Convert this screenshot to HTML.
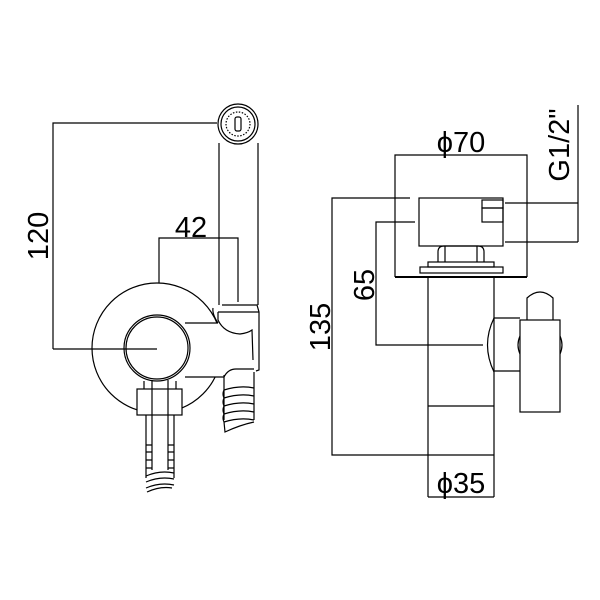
<!DOCTYPE html>
<html><head><meta charset="utf-8"><style>
html,body{margin:0;padding:0;background:#fff}
svg{display:block}
text{font-family:"Liberation Sans","DejaVu Sans",sans-serif;fill:#000}
</style></head><body>
<svg width="600" height="600" viewBox="0 0 600 600" xmlns="http://www.w3.org/2000/svg">
<g fill="none" stroke="#000" stroke-width="1.2">
<polyline points="217,123 53,123 53,349"/>
<polyline points="159,283 159,238 238,238 238,302"/>
<circle cx="157" cy="348" r="65" fill="#fff"/>
<rect x="186" y="323.5" width="40" height="53" fill="#fff" stroke="none"/>
<line x1="185" y1="323" x2="218" y2="323"/>
<line x1="185" y1="377" x2="224" y2="377"/>
<circle cx="157" cy="348" r="33" fill="#fff"/>
<circle cx="157" cy="348" r="31"/>
<line x1="53" y1="349" x2="157" y2="349"/>
<circle cx="238" cy="124" r="20" fill="#fff"/>
<circle cx="238" cy="124" r="17"/>
<circle cx="238" cy="124" r="12" stroke-dasharray="1.5 1.5"/>
<rect x="235" y="117" width="6" height="14" rx="2"/>
<line x1="219" y1="143" x2="219" y2="305"/>
<line x1="258" y1="143" x2="258" y2="305"/>
<path d="M222,305 L257,305 L259,312 L259,370 L256,371"/>
<line x1="218" y1="312" x2="259" y2="312"/>
<path d="M218,312 L218,320 Q224,333 240,334 Q248,333 252,330 L253,360"/>
<path d="M218,323 Q212,314 213,308"/>
<path d="M224,377 Q228,369 236,369 L254,369"/>
<line x1="224" y1="375" x2="224" y2="420"/>
<line x1="254" y1="372" x2="254" y2="420"/>
<path d="M224,390 Q240,385 254,388 M224,398 Q240,393 254,396 M224,406 Q240,401 254,404 M224,414 Q240,409 254,412 M224,422 Q240,417 254,420"/>
<path d="M224,390 Q222,394 224,398 Q222,402 224,406 Q222,410 224,414 Q222,418 224,422 L225,432 Q240,425 254,422"/>
<rect x="137" y="389" width="45" height="26" fill="#fff"/>
<line x1="152" y1="380" x2="152" y2="470"/>
<line x1="168" y1="380" x2="168" y2="470"/>
<line x1="144" y1="381" x2="144" y2="389"/>
<line x1="176" y1="381" x2="176" y2="389"/>
<line x1="146" y1="415" x2="146" y2="445"/>
<line x1="174" y1="415" x2="174" y2="445"/>
<path d="M146,445 h6 M168,445 h6 M146,445 v33 M174,445 v33"/>
<path d="M146,452 h6 M168,452 h6 M146,460 h6 M168,460 h6 M146,468 h6 M168,468 h6"/>
<path d="M146,476 Q160,470 174,473 M146,482 Q160,476 174,479 M146,488 Q160,482 174,485 M147,492 Q160,486 172,488"/>
<polyline points="395,277 395,155 527,155 527,277"/>
<line x1="505" y1="203" x2="578" y2="203"/>
<line x1="505" y1="242" x2="578" y2="242"/>
<line x1="578" y1="105" x2="578" y2="242"/>
<polyline points="410,198 332,198 332,455 494,455"/>
<polyline points="415,222 376,222 376,345 483,345"/>
<rect x="419" y="198" width="84" height="48"/>
<rect x="482" y="200" width="21" height="8"/>
<rect x="482" y="208" width="21" height="14"/>
<path d="M438,262 L438,252 Q438,246 444,246 L478,246 Q484,246 484,252 L484,262"/>
<line x1="445" y1="246" x2="445" y2="262"/>
<line x1="477" y1="246" x2="477" y2="262"/>
<rect x="428" y="262" width="66" height="5"/>
<rect x="420" y="267" width="83" height="6"/>
<line x1="395" y1="277" x2="527" y2="277" stroke-width="2"/>
<line x1="428" y1="277" x2="428" y2="497"/>
<line x1="494" y1="277" x2="494" y2="497"/>
<line x1="428" y1="406" x2="494" y2="406"/>
<line x1="428" y1="497" x2="494" y2="497"/>
<path d="M494,318 Q481,345 494,372"/>
<line x1="494" y1="318" x2="520" y2="318"/>
<line x1="494" y1="371" x2="520" y2="371"/>
<rect x="520" y="320" width="40" height="92"/>
<path d="M527,320 L527,298 Q540,286 553,298 L553,320"/>
<path d="M520,336 Q516,345 520,354 M560,336 Q564,345 560,354"/>
</g>
<text x="0" y="0" font-size="29" text-anchor="middle" transform="translate(48,236) rotate(-90)">120</text>
<text x="191" y="237" font-size="29" text-anchor="middle">42</text>
<text x="461" y="152" font-size="29" text-anchor="middle">ϕ70</text>
<text x="0" y="0" font-size="29" text-anchor="middle" transform="translate(569,145) rotate(-90)">G1/2"</text>
<text x="0" y="0" font-size="29" text-anchor="middle" transform="translate(330,327) rotate(-90)">135</text>
<text x="0" y="0" font-size="29" text-anchor="middle" transform="translate(374,285) rotate(-90)">65</text>
<text x="461" y="493" font-size="29" text-anchor="middle">ϕ35</text>
</svg>
</body></html>
